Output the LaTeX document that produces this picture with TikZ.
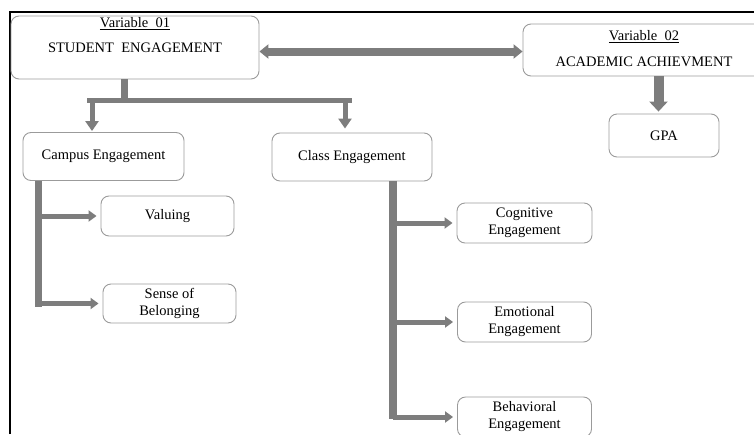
\documentclass[tikz,border=0pt]{standalone}
\usepackage{fontspec}
\setmainfont{Liberation Serif}
\usetikzlibrary{arrows.meta,positioning}
\definecolor{edgegray}{RGB}{155,155,155}
\definecolor{arrowgray}{RGB}{125,125,125}
\tikzset{
blockbox/.style={draw=edgegray, line width=0.9pt, rounded corners=8pt, align=center, inner sep=2pt}, % the rounded boxes
txt/.style={inner sep=0pt}, % lines of text inside the two variable boxes
stem/.style={draw=arrowgray}, % plain grey bars
bigarrow/.style={draw=arrowgray, line width=8pt, {Triangle[length=9pt,width=14pt]}-{Triangle[length=9pt,width=14pt]}},
bigdown/.style={draw=arrowgray, line width=10pt, -{Triangle[length=10pt,width=18pt]}, shorten >=2pt},
downarrow/.style={draw=arrowgray, line width=5pt, -{Triangle[length=10pt,width=13pt]}},
sidearrow/.style={draw=arrowgray, line width=5pt, -{Triangle[length=8pt,width=11pt]}, shorten >=4pt},
}

\begin{document}
\begin{tikzpicture}[x=1pt,y=-1pt,on grid,font=\fontsize{14.5}{17}\selectfont]
   \clip (0,0) rectangle (754,434);
   \draw[line width=2pt] (10,434) -- (10,12) -- (754,12);
   % the two variables
   \node[blockbox, minimum width=248pt, minimum height=63pt] (se) at (135,47.5) {};
   \node[txt] (se1) at (135,24) {\underline{Variable~~01}};
   \node[txt] (se2) at (135,48) {STUDENT~~ENGAGEMENT};
   \node[blockbox, minimum width=242pt, minimum height=52pt] (aa) at (644,50) {};
   \node[txt] (aa1) at (644,37) {\underline{Variable~~02}};
   \node[txt] (aa2) at (644,62) {ACADEMIC ACHIEVMENT};
   \node[blockbox, minimum width=110pt, minimum height=43pt] (gpa) at (664,135.5) {GPA};
   % kinds of engagement
   \node[blockbox, minimum width=161pt, minimum height=48pt] (campus) at (103.5,156.5) {Campus Engagement};
   \node[blockbox, minimum width=160pt, minimum height=48pt] (class) at (352,157) {Class Engagement};
   \node[blockbox, minimum width=133pt, minimum height=40pt] (val) at (167.5,216) {Valuing};
   \node[blockbox, minimum width=133pt, minimum height=39pt] (bel) [below=87.5pt of val, xshift=2pt] {Sense of\\Belonging};
   \node[blockbox, minimum width=135pt, minimum height=40pt] (cog) at (524.5,223) {Cognitive\\Engagement};
   \node[blockbox, minimum width=134pt, minimum height=40pt] (emo) [below=99pt of cog] {Emotional\\Engagement};
   \node[blockbox, minimum width=134pt, minimum height=40pt] (beh) [below=95pt of emo] {Behavioral\\Engagement};
   \coordinate (fork) at (124.5,100.5);
   \coordinate (forkL) at (87,100.5);
   \coordinate (forkR) at (352,100.5);
   \coordinate (cb) at (38.5,307);
   \coordinate (kb) at (393,419);
   % connectors
   \draw[bigarrow] ([yshift=-4pt]se.east) -- ([yshift=-4pt]se.east -| aa.west);
   \draw[bigdown] ([xshift=-5.5pt]gpa.north |- aa.south) -- ([xshift=-5.5pt]gpa.north);
   \draw[stem, line width=7pt] (se.south -| fork) -- (fork);
   \draw[stem, line width=5.5pt] (forkL) -- (forkR);
   \draw[downarrow, shorten >=1pt] ([xshift=-11.5pt]campus.north |- fork) -- ([xshift=-11.5pt]campus.north);
   \draw[downarrow, shorten >=4pt] ([xshift=-7pt]class.north |- fork) -- ([xshift=-7pt]class.north);
   \draw[stem, line width=6.5pt] (campus.south -| cb) -- (cb);
   \foreach \b in {val,bel} \draw[sidearrow] (cb |- \b.west) -- (\b.west);
   \draw[stem, line width=8pt] (class.south -| kb) -- (kb);
   \foreach \b in {cog,emo,beh} \draw[sidearrow] (kb |- \b.west) -- (\b.west);
\end{tikzpicture}
\end{document}
